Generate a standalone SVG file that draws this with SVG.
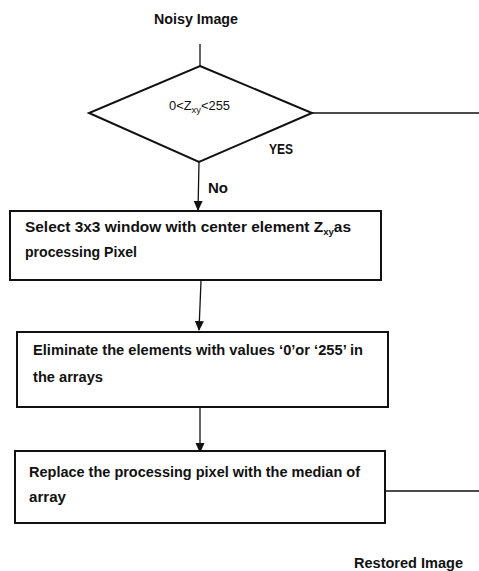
<svg xmlns="http://www.w3.org/2000/svg" width="479" height="571" viewBox="0 0 479 571">
<style>
.t{font-family:"Liberation Sans",Arial,sans-serif;font-weight:bold;font-size:14.5px;fill:#111}
.s{font-size:9px}
.box{fill:#fff;stroke:#111;stroke-width:2}
.ln{fill:none;stroke:#111;stroke-width:1.3}
</style>
<defs>
<marker id="ah" markerWidth="10" markerHeight="10" refX="9" refY="5" orient="auto" markerUnits="userSpaceOnUse">
<path d="M0,0.5 L10,5 L0,9.5 Z" fill="#111"/>
</marker>
</defs>
<rect width="479" height="571" fill="#fff"/>
<g id="connectors">
<line class="ln" x1="200" y1="44" x2="200" y2="66"/>
<line class="ln" x1="312" y1="113" x2="479" y2="113"/>
<line class="ln" x1="199" y1="162" x2="198" y2="210" marker-end="url(#ah)"/>
<line class="ln" x1="201" y1="281" x2="199" y2="330" marker-end="url(#ah)"/>
<line class="ln" x1="200" y1="408" x2="200" y2="452" marker-end="url(#ah)"/>
<line class="ln" x1="385" y1="491" x2="479" y2="491"/>
</g>
<g id="noisy">
<text class="t" x="154" y="24" textLength="84" lengthAdjust="spacingAndGlyphs">Noisy Image</text>
</g>
<g id="decision">
<polygon points="200,66 312,113 199,162 89,113" fill="#fff" stroke="#111" stroke-width="2"/>
<text class="t" x="169" y="110" style="font-weight:normal;font-size:12.5px" textLength="61" lengthAdjust="spacingAndGlyphs">0&lt;Z<tspan class="s" dy="3">xy</tspan><tspan dy="-3">&lt;255</tspan></text>
<text class="t" x="269" y="154" textLength="24" lengthAdjust="spacingAndGlyphs">YES</text>
<text class="t" x="208" y="193" textLength="20" lengthAdjust="spacingAndGlyphs">No</text>
</g>
<g id="select">
<rect class="box" x="10" y="211" width="371" height="69"/>
<text class="t" x="25" y="232" textLength="326" lengthAdjust="spacingAndGlyphs">Select 3x3 window with center element Z<tspan class="s" dy="3">xy</tspan><tspan dy="-3">as</tspan></text>
<text class="t" x="25" y="257" textLength="112" lengthAdjust="spacingAndGlyphs">processing Pixel</text>
</g>
<g id="eliminate">
<rect class="box" x="17" y="332" width="371" height="75"/>
<text class="t" x="33" y="355" textLength="330" lengthAdjust="spacingAndGlyphs">Eliminate the elements with values ‘0’or ‘255’ in</text>
<text class="t" x="33" y="382" textLength="70" lengthAdjust="spacingAndGlyphs">the arrays</text>
</g>
<g id="replace">
<rect class="box" x="15" y="451" width="370" height="72"/>
<text class="t" x="29" y="477" textLength="331" lengthAdjust="spacingAndGlyphs">Replace the processing pixel with the median of</text>
<text class="t" x="29" y="502" textLength="37" lengthAdjust="spacingAndGlyphs">array</text>
</g>
<g id="restored">
<text class="t" x="354" y="568" textLength="109" lengthAdjust="spacingAndGlyphs">Restored Image</text>
</g>
</svg>
